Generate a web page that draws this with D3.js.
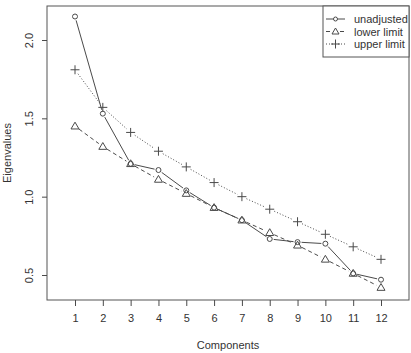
<!DOCTYPE html>
<html>
<head>
<meta charset="utf-8">
<script src="https://cdn.jsdelivr.net/npm/d3@7"></script>
<style>
  body { margin: 0; background: #fff; }
  text { font-family: "Liberation Sans", Arial, sans-serif; fill: #333; }
</style>
</head>
<body>
<div id="chart"></div>
<script>
// data
const components = [1, 2, 3, 4, 5, 6, 7, 8, 9, 10, 11, 12];
const unadjusted = [2.15, 1.53, 1.21, 1.17, 1.04, 0.93, 0.85, 0.73, 0.71, 0.70, 0.51, 0.47];
const lowerLimit = [1.45, 1.32, 1.21, 1.11, 1.02, 0.93, 0.85, 0.77, 0.69, 0.60, 0.51, 0.42];
const upperLimit = [1.81, 1.57, 1.41, 1.29, 1.19, 1.09, 1.00, 0.92, 0.84, 0.76, 0.68, 0.60];
const yTicks = [0.5, 1.0, 1.5, 2.0];
const legendLabels = ["unadjusted", "lower limit", "upper limit"];

const width = 411;
const height = 353;
const box = { left: 47, top: 6, right: 409, bottom: 300 };
const ink = "#4a4a4a";

const svg = d3.select("#chart")
  .append("svg")
  .attr("width", width)
  .attr("height", height);

// scales
const x = d3.scaleLinear().domain([1, 12]).range([75, 381]);
const y = d3.scaleLinear().domain([0.5, 2.0]).range([275, 40]);

// plot frame
svg.append("rect")
  .attr("x", box.left).attr("y", box.top)
  .attr("width", box.right - box.left).attr("height", box.bottom - box.top)
  .attr("fill", "none").attr("stroke", "#555").attr("stroke-width", 1);

// x axis
const xAxis = svg.append("g")
  .attr("transform", `translate(0,${box.bottom})`)
  .call(d3.axisBottom(x).tickValues(components).tickSize(6).tickPadding(8).tickFormat(d3.format("d")));
xAxis.select(".domain").remove();
xAxis.selectAll("line").attr("stroke", ink);
xAxis.selectAll("text").attr("font-size", 11).attr("fill", "#333");

// y axis, labels turned like R does
const yAxis = svg.append("g")
  .attr("transform", `translate(${box.left},0)`)
  .call(d3.axisLeft(y).tickValues(yTicks).tickSize(5).tickFormat(d3.format(".1f")));
yAxis.select(".domain").remove();
yAxis.selectAll("line").attr("stroke", ink);
yAxis.selectAll("text")
  .attr("font-size", 11).attr("fill", "#333")
  .attr("text-anchor", "middle")
  .attr("x", 0).attr("dy", 0)
  .attr("transform", "translate(-14,0) rotate(-90)");

// axis titles
svg.append("text")
  .attr("x", (box.left + box.right) / 2)
  .attr("y", 349)
  .attr("text-anchor", "middle")
  .attr("font-size", 11)
  .text("Components");

svg.append("text")
  .attr("transform", `translate(11,${(box.top + box.bottom) / 2}) rotate(-90)`)
  .attr("text-anchor", "middle")
  .attr("font-size", 11)
  .text("Eigenvalues");

// lines drawn R "type b" style: segments with gaps round each point
function drawSeries(values, dash, gap) {
  const pts = values.map((v, i) => [x(components[i]), y(v)]);
  const segs = [];
  for (let i = 0; i < pts.length - 1; i++) {
    const [x0, y0] = pts[i], [x1, y1] = pts[i + 1];
    const len = Math.hypot(x1 - x0, y1 - y0);
    if (len <= 2 * gap) continue;
    const ux = (x1 - x0) / len, uy = (y1 - y0) / len;
    segs.push([x0 + ux * gap, y0 + uy * gap, x1 - ux * gap, y1 - uy * gap]);
  }
  svg.append("g").selectAll("line")
    .data(segs).enter().append("line")
    .attr("x1", d => d[0]).attr("y1", d => d[1])
    .attr("x2", d => d[2]).attr("y2", d => d[3])
    .attr("stroke", ink).attr("stroke-width", 1)
    .attr("stroke-dasharray", dash);
  return pts;
}

function circleMark(g, px, py) {
  g.append("circle").attr("cx", px).attr("cy", py).attr("r", 2.5)
    .attr("fill", "none").attr("stroke", ink).attr("stroke-width", 1);
}
function triMark(g, px, py) {
  const s = 4;
  g.append("path")
    .attr("d", `M${px},${py - s}L${px + s},${py + s * 0.7}L${px - s},${py + s * 0.7}Z`)
    .attr("fill", "none").attr("stroke", ink).attr("stroke-width", 1);
}
function plusMark(g, px, py) {
  const s = 4.5;
  g.append("path")
    .attr("d", `M${px - s},${py}H${px + s}M${px},${py - s}V${py + s}`)
    .attr("fill", "none").attr("stroke", ink).attr("stroke-width", 1);
}

const marks = svg.append("g");
drawSeries(unadjusted, null, 4).forEach(p => circleMark(marks, p[0], p[1]));
drawSeries(lowerLimit, "4,3", 5).forEach(p => triMark(marks, p[0], p[1]));
drawSeries(upperLimit, "1,2", 5).forEach(p => plusMark(marks, p[0], p[1]));

// legend
const legend = svg.append("g");
legend.append("rect")
  .attr("x", 323).attr("y", box.top)
  .attr("width", box.right - 323).attr("height", 51)
  .attr("fill", "#fff").attr("stroke", "#555").attr("stroke-width", 1);

const legendDash = [null, "4,3", "1,2"];
legendLabels.forEach((lab, i) => {
  const ly = 19 + i * 12.5;
  legend.append("line")
    .attr("x1", 326).attr("x2", 345).attr("y1", ly).attr("y2", ly)
    .attr("stroke", ink).attr("stroke-dasharray", legendDash[i]);
  const g = legend.append("g");
  if (i === 0) {
    g.append("circle").attr("cx", 335.5).attr("cy", ly).attr("r", 2)
      .attr("fill", "#fff").attr("stroke", ink);
  } else if (i === 1) {
    g.append("path").attr("d", `M335.5,${ly - 3.5}L339,${ly + 2.5}L332,${ly + 2.5}Z`)
      .attr("fill", "#fff").attr("stroke", ink);
  } else {
    plusMark(g, 335.5, ly);
  }
  legend.append("text")
    .attr("x", 354).attr("y", ly + 4)
    .attr("font-size", 11)
    .text(lab);
});
</script>
</body>
</html>
